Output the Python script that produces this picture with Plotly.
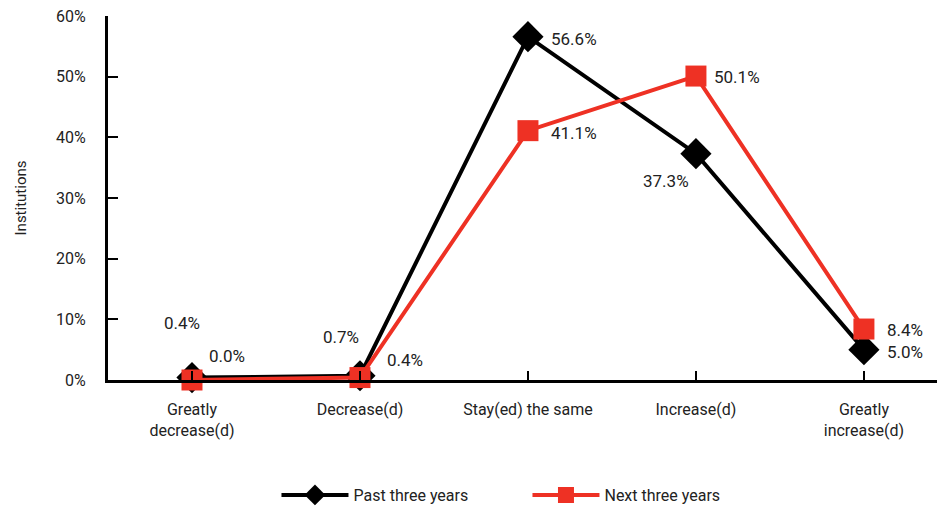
import plotly.graph_objects as go

categories = ["Greatly<br>decrease(d)", "Decrease(d)", "Stay(ed) the same",
              "Increase(d)", "Greatly<br>increase(d)"]
past_three = [0.4, 0.7, 56.6, 37.3, 5.0]
next_three = [0.0, 0.4, 41.1, 50.1, 8.4]
y_ticks = [0, 10, 20, 30, 40, 50, 60]
y_tick_labels = [f"{v}%" for v in y_ticks]

FONT = "Roboto, Arial, sans-serif"
TXT = "#222222"
RED = "#ee3124"

idx = list(range(len(categories)))

fig = go.Figure()
fig.add_trace(go.Scatter(
    x=idx, y=past_three, name="Past three years", mode="lines+markers",
    line=dict(color="black", width=4),
    marker=dict(symbol="diamond", size=24, color="black"),
    cliponaxis=False,
))
fig.add_trace(go.Scatter(
    x=idx, y=next_three, name="Next three years", mode="lines+markers",
    line=dict(color=RED, width=4),
    marker=dict(symbol="square", size=21, color=RED),
    cliponaxis=False,
))

# value labels: per-point offsets in px and horizontal anchor
past_offsets = [(-10, 55, "center"), (-19, 39, "center"), (21, -2, "left"),
                (-30, -27, "center"), (21, -2, "left")]
next_offsets = [(15, 24, "left"), (25, 18, "left"), (21, -2, "left"),
                (16, -1, "left"), (21, -1, "left")]
for vals, offs in ((past_three, past_offsets), (next_three, next_offsets)):
    for i, (v, (dx, dy, anc)) in enumerate(zip(vals, offs)):
        fig.add_annotation(
            x=i, y=v, text=f"{v:.1f}%", showarrow=False,
            xanchor=anc, yanchor="middle", xshift=dx, yshift=dy,
            font=dict(family=FONT, size=17, color=TXT),
        )

plot_h = 512 - 16 - 132
fig.update_layout(
    width=937, height=512,
    margin=dict(l=108, r=0, t=16, b=132),
    paper_bgcolor="white", plot_bgcolor="white",
    font=dict(family=FONT, size=16, color=TXT),
    showlegend=True,
    legend=dict(orientation="h", x=0.506, xanchor="center",
                y=-132 / plot_h, yanchor="bottom",
                font=dict(family=FONT, size=16, color=TXT),
                itemwidth=67, entrywidth=169),
)
fig.update_xaxes(
    range=[-0.5, 4.435], tickmode="array", tickvals=idx, ticktext=categories,
    showgrid=False, zeroline=False, showline=True, linecolor="black",
    linewidth=3, ticks="inside", ticklen=9, tickwidth=2, tickcolor="black",
    tickson="boundaries", ticklabelstandoff=13,
    tickfont=dict(family=FONT, size=16, color=TXT),
)
fig.update_yaxes(
    range=[0, 60], tickmode="array", tickvals=y_ticks, ticktext=y_tick_labels,
    showgrid=False, zeroline=False, showline=True, linecolor="black",
    linewidth=3, ticks="inside", ticklen=10, tickwidth=2, tickcolor="black",
    ticklabelstandoff=16,
    tickfont=dict(family=FONT, size=16, color=TXT),
    title=dict(text="Institutions", font=dict(family=FONT, size=15, color=TXT),
               standoff=26),
)

fig.write_html("out.html")
